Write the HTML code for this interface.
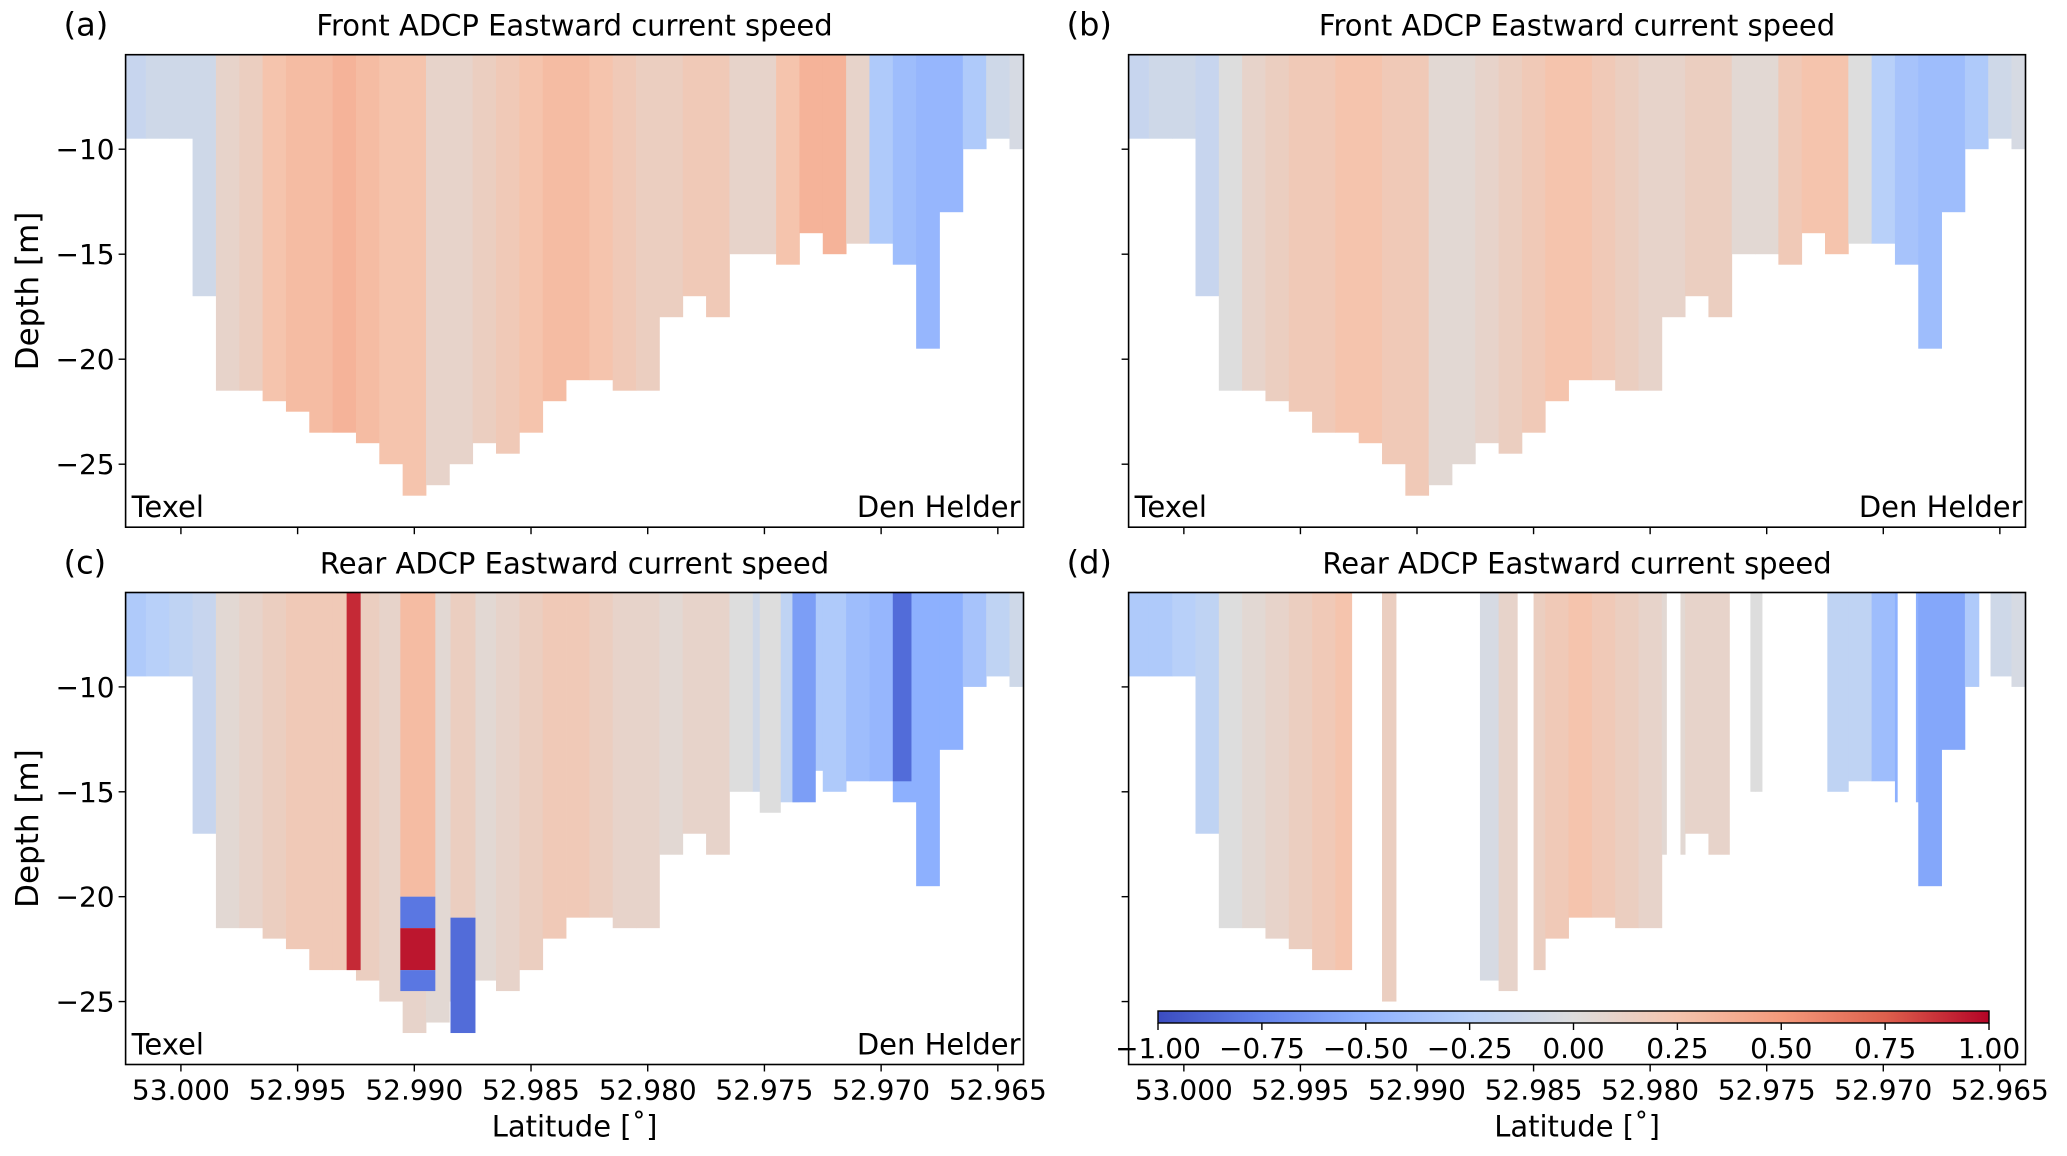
<!DOCTYPE html>
<html><head><meta charset="utf-8">
<style>
html,body{margin:0;padding:0;background:#fff;}
svg{display:block;font-family:"DejaVu Sans","Liberation Sans",sans-serif;}
</style></head>
<body>
<svg id="fig" width="2067" height="1156" viewBox="0 0 2067 1156" xmlns="http://www.w3.org/2000/svg">
<defs><linearGradient id="cbgrad" x1="0" x2="1" y1="0" y2="0"></linearGradient></defs>
</svg>
<script>
// ---- data ----
const colLats = [53.002,53.001,53.000,52.999,52.998,52.997,52.996,52.995,52.994,52.993,52.992,52.991,52.990,52.989,52.988,52.987,52.986,52.985,52.984,52.983,52.982,52.981,52.980,52.979,52.978,52.977,52.976,52.975,52.974,52.973,52.972,52.971,52.970,52.969,52.968,52.967,52.966,52.965,52.964];
const bottomDepth = [-9.5,-9.5,-9.5,-17,-21.5,-21.5,-22,-22.5,-23.5,-23.5,-24,-25,-26.5,-26,-25,-24,-24.5,-23.5,-22,-21,-21,-21.5,-21.5,-18,-17,-18,-15,-15,-15.5,-14,-15,-14.5,-14.5,-15.5,-19.5,-13,-10,-9.5,-10];
const valuesA = [-0.15,-0.1,-0.1,-0.1,0.1,0.15,0.25,0.3,0.3,0.35,0.3,0.25,0.25,0.1,0.1,0.15,0.2,0.25,0.3,0.3,0.25,0.2,0.15,0.15,0.2,0.2,0.1,0.1,0.25,0.35,0.35,0.1,-0.3,-0.4,-0.45,-0.45,-0.3,-0.1,-0.05];
const valuesB = [-0.15,-0.1,-0.1,-0.15,0.0,0.1,0.15,0.2,0.2,0.25,0.25,0.2,0.2,0.05,0.05,0.1,0.15,0.2,0.25,0.25,0.2,0.15,0.1,0.1,0.15,0.15,0.05,0.05,0.2,0.25,0.25,0.0,-0.25,-0.35,-0.4,-0.4,-0.3,-0.1,-0.05];
const valuesC = [-0.3,-0.25,-0.2,-0.15,0.05,0.1,0.15,0.2,0.2,0.2,0.15,0.1,0.1,0.05,0.05,0.05,0.1,0.15,0.2,0.2,0.15,0.1,0.1,0.05,0.1,0.1,0.0,-0.1,-0.2,-0.3,-0.3,-0.4,-0.45,-0.5,-0.5,-0.5,-0.35,-0.2,-0.1];
const valuesD = [-0.3,-0.3,-0.25,-0.2,0.0,0.05,0.1,0.15,0.2,0.25,0.2,0.15,0.1,0.05,0.05,-0.05,0.1,0.15,0.2,0.25,0.2,0.15,0.1,0.05,0.1,0.1,0.0,0.0,-0.2,-0.2,-0.2,-0.2,-0.4,-0.5,-0.55,-0.55,-0.3,-0.1,-0.05];
// rear ADCP strong bands: [latStart, latEnd, topDepth, bottomDepth, value]
const bandsC = [
 [52.9929,52.9923,-5.5,-23.5,0.9],
 [52.9906,52.9891,-5.5,-20,0.3],
 [52.9906,52.9891,-20,-21.5,-0.8],
 [52.9906,52.9891,-21.5,-23.5,0.95],
 [52.9906,52.9891,-23.5,-24.5,-0.8],
 [52.98845,52.98738,-5.5,-21,0.15],
 [52.98845,52.98738,-21,-26.5,-0.85],
 [52.9752,52.9743,-5.5,-16,0.0],
 [52.9738,52.9728,-5.5,-15.5,-0.6],
 [52.9695,52.9687,-5.5,-14.5,-0.85]
];
// valid latitude segments of panel (d)
const segmentsD = [[53.0024,52.9928],[52.9915,52.9909],[52.9873,52.9857],[52.9850,52.9793],[52.9787,52.9766],[52.9757,52.9752],[52.9724,52.9694],[52.9686,52.9659],[52.9654,52.9639]];
const yTicks = [-10,-15,-20,-25];
const xTicks = [53.000,52.995,52.990,52.985,52.980,52.975,52.970,52.965];
const xTickLabels = ["53.000","52.995","52.990","52.985","52.980","52.975","52.970","52.965"];
const cbTicks = [-1,-0.75,-0.5,-0.25,0,0.25,0.5,0.75,1];
const cbTickLabels = ["\u22121.00","\u22120.75","\u22120.50","\u22120.25","0.00","0.25","0.50","0.75","1.00"];

// ---- layout ----
const NS="http://www.w3.org/2000/svg";
const svg=document.getElementById('fig');
const LAT0=53.00237, LAT1=52.96390, Y0=-5.5, Y1=-28;
const panels=[
 {id:'a',x:125.6,y:54.7,w:897.9,h:472.5,title:'Front ADCP Eastward current speed',vals:valuesA,yl:true,xl:false},
 {id:'b',x:1128.6,y:54.7,w:896.9,h:472.5,title:'Front ADCP Eastward current speed',vals:valuesB,yl:false,xl:false},
 {id:'c',x:125.6,y:592.5,w:897.9,h:472,title:'Rear ADCP Eastward current speed',vals:valuesC,bands:bandsC,yl:true,xl:true},
 {id:'d',x:1128.6,y:592.5,w:896.9,h:472,title:'Rear ADCP Eastward current speed',vals:valuesD,segs:segmentsD,yl:false,xl:true}
];
const cstops=[[-1,[59,76,192]],[-0.75,[98,130,234]],[-0.5,[141,176,254]],[-0.25,[184,208,249]],[0,[221,221,221]],[0.25,[245,196,173]],[0.5,[244,154,123]],[0.75,[222,96,77]],[1,[180,4,38]]];
function cmap(v){v=Math.max(-1,Math.min(1,v));for(let i=0;i<cstops.length-1;i++){const[a,ca]=cstops[i],[b,cb]=cstops[i+1];if(v<=b){const t=(v-a)/(b-a);return 'rgb('+ca.map((c,k)=>Math.round(c+(cb[k]-c)*t)).join(',')+')';}}return 'rgb(180,4,38)';}
function mk(tag,attrs,parent){const e=document.createElementNS(NS,tag);for(const k in attrs)e.setAttribute(k,attrs[k]);(parent||svg).appendChild(e);return e;}
function txt(s,attrs,parent){const e=mk('text',attrs,parent);e.textContent=s;return e;}

panels.forEach(p=>{
 const sx=lat=>p.x+(LAT0-lat)/(LAT0-LAT1)*p.w;
 const sy=d=>p.y+(Y0-d)/(Y0-Y1)*p.h;
 const g=mk('g',{});
 
 
 const cp=mk('clipPath',{id:'clip'+p.id},g);mk('rect',{x:p.x,y:p.y,width:p.w,height:p.h},cp);
 const hm=mk('g',{'clip-path':'url(#clip'+p.id+')'},g);
 
 
 colLats.forEach((lat,i)=>{
  let a=lat+0.0005,b=lat-0.0005;
  const pieces=p.segs?p.segs.map(s=>[Math.min(a,s[0]),Math.max(b,s[1])]).filter(q=>q[0]>q[1]):[[a,b]];
  pieces.forEach(q=>{
   const x0=sx(q[0]),x1=sx(q[1]);
   const r=mk('rect',{x:x0,y:sy(Y0),width:x1-x0+0.4,height:sy(bottomDepth[i])-sy(Y0),fill:cmap(p.vals[i])},hm);
   
   
  });
 });
 (p.bands||[]).forEach(bd=>{
  const r=mk('rect',{x:sx(bd[0]),y:sy(bd[2]),width:sx(bd[1])-sx(bd[0]),height:sy(bd[3])-sy(bd[2]),fill:cmap(bd[4])},hm);
  
  
 });
 const fr=mk('rect',{x:p.x,y:p.y,width:p.w,height:p.h,fill:'none',stroke:'#000','stroke-width':1.6},g);
 
 
 yTicks.forEach(t=>{
  const yy=sy(t);mk('line',{x1:p.x-7,x2:p.x,y1:yy,y2:yy,stroke:'#000','stroke-width':1.4},g);
  if(p.yl){const l=txt('\u2212'+Math.abs(t),{x:p.x-11,y:yy+10,'font-size':28,'text-anchor':'end'},g);
   }
 });
 xTicks.forEach((t,i)=>{
  const xx=sx(t);mk('line',{x1:xx,x2:xx,y1:p.y+p.h,y2:p.y+p.h+7,stroke:'#000','stroke-width':1.4},g);
  if(p.xl){const l=txt(xTickLabels[i],{x:xx,y:p.y+p.h+35,'font-size':28,'text-anchor':'middle'},g);
   }
 });
 const ti=txt(p.title,{x:p.x+p.w/2,y:p.y-19,'font-size':29,'text-anchor':'middle'},g);
 
 const pl=txt('('+p.id+')',{x:p.x-62,y:p.y-19,'font-size':32},g);
 
 if(p.id!=='d'){
  const t1=txt('Texel',{x:p.x+6,y:p.y+p.h-10,'font-size':29},g);
  
  const t2=txt('Den Helder',{x:p.x+p.w-3,y:p.y+p.h-10,'font-size':29,'text-anchor':'end'},g);
  
 }
 if(p.yl){const yl=txt('Depth [m]',{x:0,y:0,'font-size':31,'text-anchor':'middle',transform:'translate(38,'+(p.y+p.h/2)+') rotate(-90)'},g);
  }
 if(p.xl){const xl=txt('Latitude [\u02da]',{x:p.x+p.w/2,y:p.y+p.h+72,'font-size':29,'text-anchor':'middle'},g);
  }
});

// colorbar
const grad=document.getElementById('cbgrad');
for(let i=0;i<=40;i++){const v=-1+i/20;mk('stop',{offset:(i/40*100)+'%','stop-color':cmap(v)},grad);}
const cb={x:1158,y:1011,w:831,h:12};
const cbg=mk('g',{});


mk('rect',{x:cb.x,y:cb.y,width:cb.w,height:cb.h,fill:'url(#cbgrad)',stroke:'#000','stroke-width':1.4},cbg);
cbTicks.forEach((t,i)=>{
 const xx=cb.x+(t+1)/2*cb.w;
 mk('line',{x1:xx,x2:xx,y1:cb.y+cb.h,y2:cb.y+cb.h+7,stroke:'#000','stroke-width':1.4},cbg);
 const l=txt(cbTickLabels[i],{x:xx,y:1058,'font-size':28,'text-anchor':'middle'},cbg);
 
 
});
</script>
</body></html>
